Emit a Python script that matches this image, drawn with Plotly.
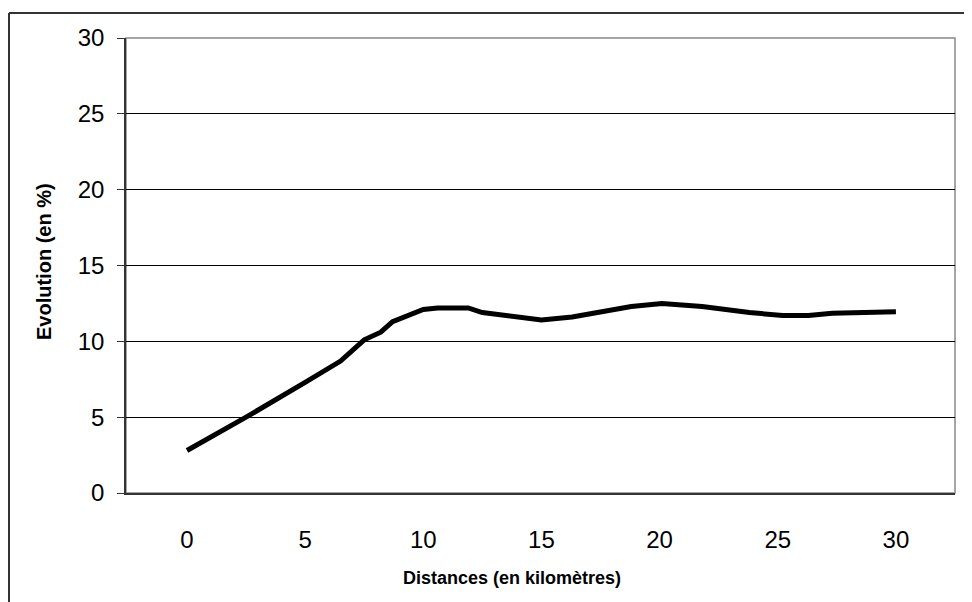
import plotly.graph_objects as go

distances = [0, 2.5, 5, 6.5, 7.5, 8.2, 8.7, 10, 10.6, 11.9, 12.5, 14.3, 15, 16.3, 18.8, 20.1, 21.8, 23.8, 25.2, 26.3, 27.3, 30]
evolution = [2.8, 5.0, 7.3, 8.7, 10.1, 10.6, 11.3, 12.1, 12.2, 12.2, 11.9, 11.5, 11.4, 11.6, 12.3, 12.5, 12.3, 11.9, 11.7, 11.7, 11.85, 11.95]
x_ticks = [0, 5, 10, 15, 20, 25, 30]
y_ticks = [0, 5, 10, 15, 20, 25, 30]

FONT = "Liberation Sans, Arial, sans-serif"

# page offset (browser body margin)
OFF = 8
W, H = 972 - OFF, 602 - OFF
# plot area in page coordinates
PL, PR, PT, PB = 126, 955, 38, 493
L, R, T, B = PL - OFF, 972 - PR, PT - OFF, 602 - PB
pw, ph = PR - PL, PB - PT


def px(xp):
    return (xp - PL) / pw


def py(yp):
    return (PB - yp) / ph


fig = go.Figure()
fig.add_trace(go.Scatter(
    x=distances, y=evolution, mode="lines",
    line=dict(color="#000000", width=5),
    showlegend=False, hoverinfo="skip",
))

fig.update_layout(
    width=W, height=H,
    margin=dict(l=L, r=R, t=T, b=B, pad=0),
    paper_bgcolor="white", plot_bgcolor="white",
    font=dict(family=FONT, color="#000000"),
    showlegend=False,
    xaxis=dict(
        range=[-2.58, 32.5], tickvals=x_ticks, ticktext=[str(v) for v in x_ticks],
        showgrid=False, zeroline=False, ticks="", showline=True,
        linecolor="#333333", linewidth=1.5,
        tickfont=dict(size=24, family=FONT), ticklabelstandoff=24,
    ),
    yaxis=dict(
        range=[0, 30], tickvals=y_ticks, ticktext=[str(v) for v in y_ticks],
        showgrid=True, gridcolor="#000000", gridwidth=1, zeroline=False,
        ticks="outside", ticklen=7, tickcolor="#333333", tickwidth=1,
        showline=True, linecolor="#333333", linewidth=1.5,
        tickfont=dict(size=24, family=FONT), ticklabelstandoff=8,
    ),
    shapes=[
        dict(type="rect", xref="paper", yref="paper", x0=0, x1=1, y0=0, y1=1,
             line=dict(color="#888888", width=1.5), layer="below"),
        dict(type="line", xref="paper", yref="paper",
             x0=px(9), x1=px(9), y0=py(13), y1=py(700),
             line=dict(color="#333333", width=2)),
        dict(type="line", xref="paper", yref="paper",
             x0=px(9), x1=px(1100), y0=py(13), y1=py(13),
             line=dict(color="#333333", width=2)),
    ],
    annotations=[
        dict(text="<b>Distances (en kilomètres)</b>", xref="paper", yref="paper",
             x=px(512), y=py(578), showarrow=False,
             font=dict(size=18, family=FONT), xanchor="center", yanchor="middle"),
        dict(text="<b>Evolution (en %)</b>", xref="paper", yref="paper",
             x=px(44), y=py(262), showarrow=False, textangle=-90,
             font=dict(size=20, family=FONT), xanchor="center", yanchor="middle"),
    ],
)

fig.write_html("out.html")
